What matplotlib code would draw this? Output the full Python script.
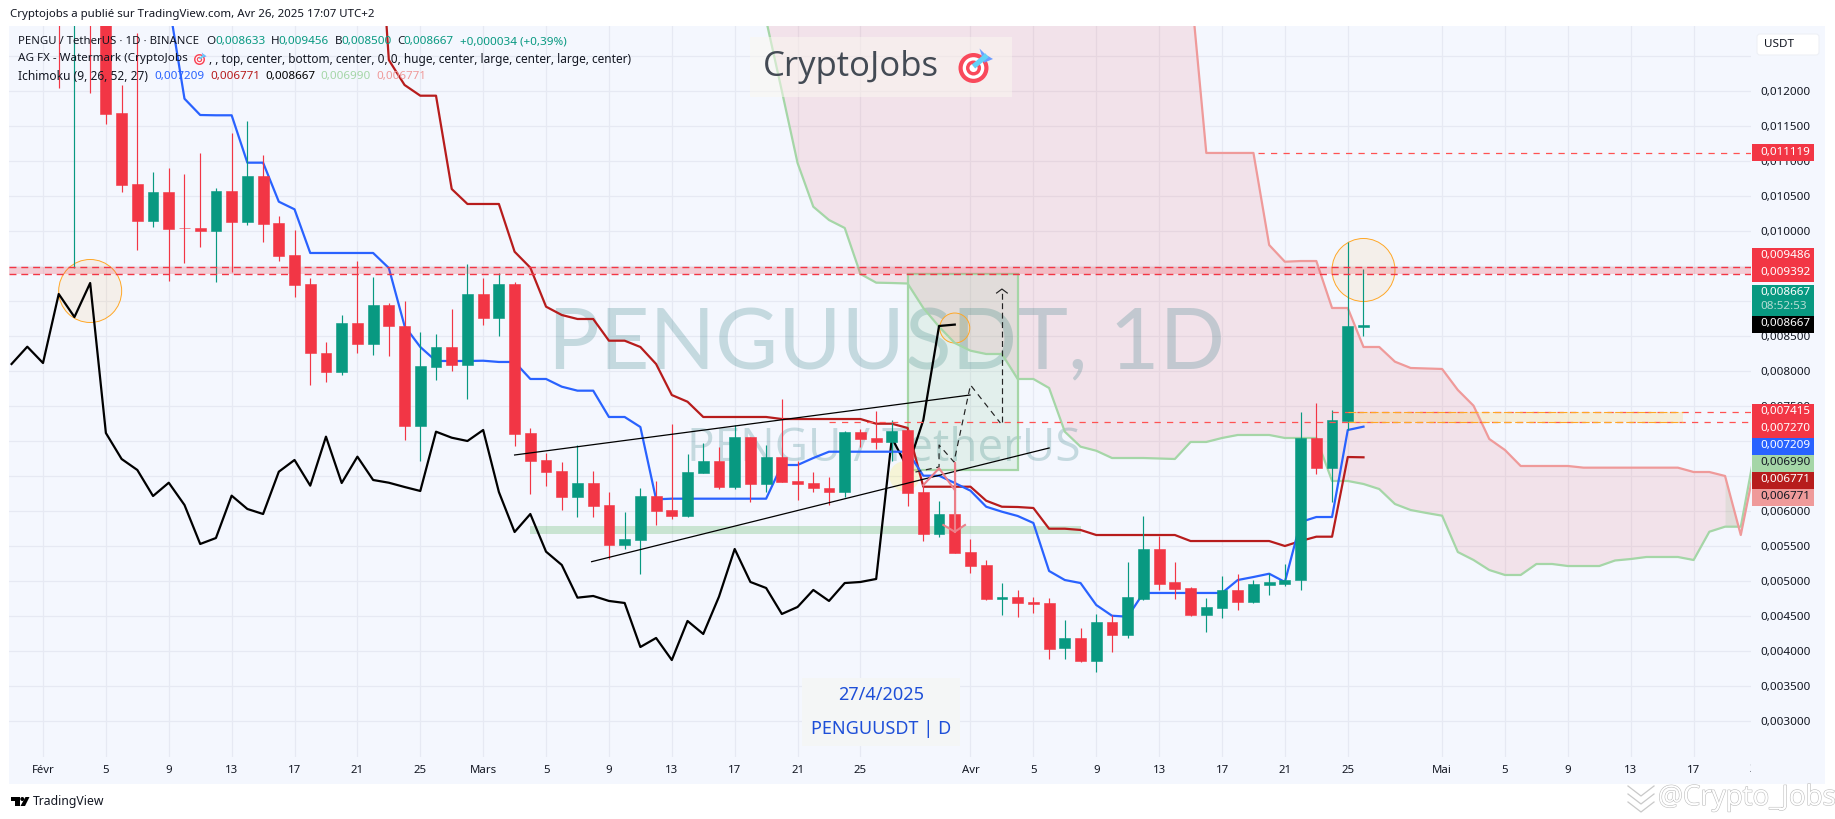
import numpy as np
from matplotlib import pyplot as plt
from matplotlib import patheffects as pe
from matplotlib.patches import Rectangle, Circle, Ellipse, Polygon, FancyBboxPatch

plt.rcParams['font.family'] = ['Noto Sans', 'DejaVu Sans']

# everything is in millionths of USDT, days are counted from Feb 1st
candle_days = np.arange(1, 85)
opens = [14500, 13500, 14000, 13500, 11690, 10675, 10147, 10561, 10047, 10047, 10004, 10575, 10133, 10790,
         10118, 9661, 9247, 8261, 7990, 8690, 8390, 8947, 8647, 7218, 8061, 8347, 8090, 9104, 8761, 9247,
         7118, 6733, 6575, 6204, 6404, 6090, 5518, 5590, 6218, 6018, 5933, 6547, 6718, 6347, 7061, 6390,
         6775, 6433, 6404, 6333, 6275, 7133, 7047, 6990, 7161, 6275, 5676, 5961, 5418, 5233, 4747, 4776,
         4704, 4690, 4047, 4190, 3861, 4418, 4233, 4747, 5461, 4990, 4904, 4518, 4618, 4876, 4704, 4947,
         4961, 5018, 7047, 6618, 7290, 8633]
highs = [15000, 14200, 14300, 14000, 12090, 12833, 10847, 10904, 10818, 11118, 10618, 11404, 11575, 11090,
         10218, 10018, 9333, 8418, 8804, 9575, 9347, 8975, 9004, 8561, 8533, 8890, 9533, 9333, 9404, 9275,
         7190, 6833, 6704, 6947, 6575, 6275, 5990, 6333, 6433, 7247, 6818, 6976, 6918, 7233, 7061, 6947,
         7604, 6718, 6561, 6490, 7147, 7175, 7433, 7304, 7175, 6404, 6147, 6690, 5604, 5304, 4975, 4876,
         4776, 4761, 4447, 4333, 4533, 4518, 5276, 5933, 5647, 5276, 4918, 4761, 5075, 5104, 5018, 5118,
         5247, 7418, 7547, 7447, 9847, 9456]
lows = [12047, 9475, 11975, 11533, 10561, 9733, 10061, 9290, 9547, 9775, 9275, 9418, 10090, 9847,
        9575, 9061, 7804, 7847, 7947, 8261, 8233, 8218, 7018, 6718, 7875, 8004, 7604, 8661, 8504, 6933,
        6247, 6361, 6018, 5918, 5918, 5318, 5461, 5104, 5804, 5890, 5918, 6547, 6318, 6318, 6133, 6275,
        6418, 6161, 6275, 6090, 6204, 6918, 6890, 6718, 6075, 5575, 5633, 5404, 5118, 4733, 4518, 4490,
        4547, 3890, 3890, 3847, 3704, 3990, 4190, 4733, 4876, 4747, 4504, 4276, 4475, 4590, 4690, 4804,
        4933, 4876, 6533, 6133, 7161, 8500]
closes = [13800, 14000, 13500, 11675, 10661, 10147, 10561, 10033, 10040, 10004, 10575, 10133, 10790, 10104,
          9647, 9233, 8261, 7990, 8690, 8390, 8947, 8647, 7218, 8075, 8347, 8090, 9104, 8761, 9247, 7104,
          6718, 6561, 6204, 6404, 6075, 5518, 5604, 6218, 6004, 5933, 6561, 6718, 6347, 7061, 6390, 6775,
          6418, 6390, 6333, 6275, 7133, 7033, 6990, 7147, 6261, 5676, 5961, 5404, 5218, 4747, 4776, 4690,
          4676, 4033, 4190, 3861, 4418, 4233, 4776, 5461, 4961, 4890, 4518, 4633, 4876, 4704, 4961, 4990,
          5018, 7047, 6618, 7304, 8647, 8667]

conversion_days = np.arange(8, 85)
conversion = [13275, 11894, 11661, 11657, 11657, 10980, 10980, 10423, 10314, 9690, 9690, 9690, 9690, 9690,
              9475, 8647, 8347, 8147, 8147, 8147, 8151, 8133, 8133, 7890, 7890, 7780, 7723, 7723, 7347, 7347,
              7204, 6171, 6180, 6180, 6180, 6180, 6180, 6180, 6180, 6661, 6661, 6761, 6851, 6851, 6851, 6851,
              6851, 6851, 6508, 6508, 6404, 6294, 6065, 5994, 5933, 5833, 5147, 5018, 4975, 4661, 4508, 4494,
              4833, 4833, 4833, 4833, 4833, 4833, 5018, 5061, 5108, 4990, 5847, 5918, 5918, 7161, 7209]

base_days = np.arange(21, 85)
base = [15790, 12447, 12090, 11937, 11937, 10604, 10390, 10390, 10390, 9708, 9480, 8923, 8804, 8747, 8747,
        8437, 8437, 8347, 8104, 7661, 7565, 7347, 7347, 7347, 7347, 7347, 7318, 7318, 7318, 7318, 7318, 7318,
        7251, 7251, 7190, 6351, 6351, 6351, 6351, 6151, 6065, 6061, 6047, 5751, 5751, 5733, 5661, 5661, 5661,
        5661, 5661, 5661, 5575, 5575, 5575, 5575, 5575, 5575, 5504, 5575, 5637, 5637, 6775, 6771]

lagging_days = np.arange(-2, 59)
lagging = [8104, 8351, 8118, 9104, 8775, 9261, 7118, 6747, 6590, 6218, 6408, 6090, 5533, 5618, 6223, 6033,
           5961, 6565, 6733, 6366, 7066, 6404, 6780, 6447, 6408, 6347, 6290, 7137, 7051, 7004, 7161, 6275,
           5704, 5961, 5423, 5233, 4766, 4790, 4719, 4690, 4061, 4190, 3875, 4433, 4247, 4780, 5461, 4990,
           4904, 4533, 4633, 4876, 4719, 4975, 4990, 5033, 7047, 6618, 7304, 8647, 8667]

cloud_days = np.arange(45, 110)
span_a = [14018, 13018, 12004, 10975, 10351, 10161, 10047, 9390, 9266, 9261, 9254, 8904, 8637, 8404, 8294,
          8247, 8247, 7890, 7890, 7761, 7137, 6923, 6865, 6761, 6761, 6761, 6754, 6747, 6990, 6990, 7047,
          7090, 7090, 7090, 7047, 7047, 7047, 6433, 6433, 6390, 6318, 6104, 6018, 5976, 5937, 5418, 5304,
          5161, 5090, 5090, 5247, 5247, 5218, 5218, 5218, 5297, 5318, 5347, 5347, 5347, 5304, 5708, 5780,
          5780, 6990]
span_b = [13600, 13600, 13600, 13600, 13600, 13600, 13600, 13600, 13600, 13600, 13600, 13600, 13600, 13600,
          13600, 13600, 13600, 13600, 13600, 13600, 13600, 13600, 13600, 13600, 13600, 13600, 13600, 13600,
          13533, 11119, 11119, 11119, 11119, 9804, 9565, 9575, 9575, 8904, 8904, 8347, 8347, 8137, 8047,
          8040, 8033, 7733, 7508, 7033, 6875, 6647, 6647, 6647, 6647, 6623, 6623, 6623, 6623, 6623, 6623,
          6623, 6561, 6561, 6504, 5661, 6771]

price_ticks = list(range(3000, 13000, 500))
date_ticks = [0, 4, 8, 12, 16, 20, 24, 28, 32, 36, 40, 44, 48, 52, 59, 63, 67, 71, 75, 79, 83, 89, 93, 97, 101, 105, 109]
date_labels = ['Févr', '5', '9', '13', '17', '21', '25', 'Mars', '5', '9', '13', '17', '21', '25',
               'Avr', '5', '9', '13', '17', '21', '25', 'Mai', '5', '9', '13', '17', '21']
month_labels = ['Févr', 'Mars', 'Avr', 'Mai']

# drawings on the chart
band_top, band_bottom = 9486, 9392
resistance = 11119
zone_top, zone_bottom = 7415, 7270
support_top, support_bottom = 5790, 5675
upper_trend_days, upper_trend = [30, 58.97], [6804, 7661]
lower_trend_days, lower_trend = [34.9, 64], [5280, 6904]
path_days = [55.5, 57, 57, 57.95, 59, 60.9]
path_prices = [6561, 6633, 6947, 6704, 7804, 7261]
target_days, target_prices = [61, 61], [7275, 9161]
head_days, head_prices = [60.66, 61, 61.34], [9118, 9175, 9118]
pink_m_days, pink_m = [56, 57, 58], [6375, 6614, 6304]
pink_arrow_days, pink_arrow = [58, 58], [6690, 5708]
pink_head_days, pink_head = [57.27, 58, 58.65], [5804, 5708, 5804]

WIDTH, HEIGHT = 1835, 819
RED, GREEN = '#F23645', '#089981'
BLUE, DARK_RED = '#2962FF', '#B71C1C'
SPAN_GREEN, SPAN_PINK = '#A5D6A7', '#EF9A9A'
TEXT = '#131722'


def text(axis, x, y, s, **kw):
    kw.setdefault('fontsize', 8.4)
    kw.setdefault('color', TEXT)
    kw.setdefault('va', 'center')
    return axis.text(x, y, s, **kw)


def price_label(y0, y1, color, labels):
    px.add_patch(Rectangle((1752, y0), 62, y1 - y0, color=color, lw=0))
    for y, s, c in labels:
        text(px, 1760, y, s, color=c)


def draw_target(cx, cy, r):
    for f, c in [(1, '#F9495B'), (0.72, 'white'), (0.5, '#F9495B'), (0.27, 'white')]:
        px.add_patch(Circle((cx, cy), r * f, color=c, lw=0))
    px.plot([cx, cx + 0.9 * r], [cy - 0.1 * r, cy - 0.85 * r], color='#63D2F7', lw=r * 0.25, solid_capstyle='butt')
    px.add_patch(Polygon([(cx + 0.4 * r, cy - 1.3 * r), (cx + 0.8 * r, cy - 0.9 * r), (cx + 1.3 * r, cy - 0.6 * r),
                          (cx + 0.7 * r, cy - 0.35 * r)], color='#6C9DFF', lw=0))


fig = plt.figure(figsize=(WIDTH / 100, HEIGHT / 100), dpi=100, facecolor='white')

bg = fig.add_axes([0, 0, 1, 1], zorder=-1)
bg.set_xlim(0, WIDTH)
bg.set_ylim(HEIGHT, 0)
bg.axis('off')
bg.add_patch(Rectangle((9, 26), 1816, 758, color='#F4F7FE', lw=0))

ax = fig.add_axes([9 / WIDTH, (HEIGHT - 757) / HEIGHT, 1742 / WIDTH, 731 / HEIGHT], zorder=1)
ax.patch.set_alpha(0)
ax.set_xlim(-2.163, 108.65)
ax.set_ylim(2489.7, 12932.6)
for spine in ax.spines.values():
    spine.set_visible(False)
ax.yaxis.tick_right()
ax.set_yticks(price_ticks)
ax.set_yticklabels([f'0,{p:06d}' if p <= 12000 else '' for p in price_ticks], fontsize=8.4, color=TEXT)
ax.set_xticks(date_ticks[:-1])
ax.set_xticklabels(date_labels[:-1], fontsize=8.2, color=TEXT)
for lab in ax.get_xticklabels():
    if lab.get_text() in month_labels:
        lab.set_fontweight('semibold')
ax.tick_params(axis='both', length=0)
ax.tick_params(axis='y', pad=6.5)
ax.tick_params(axis='x', pad=6)
ax.grid(color='#E6E9F3', lw=0.9)
ax.set_axisbelow(True)

px = fig.add_axes([0, 0, 1, 1], zorder=2)
px.patch.set_alpha(0)
px.set_xlim(0, WIDTH)
px.set_ylim(HEIGHT, 0)
px.axis('off')

# ichimoku cloud
a = np.array(span_a, dtype=float)
b = np.array(span_b, dtype=float)
ax.fill_between(cloud_days, a, b, where=cloud_days <= 107, interpolate=True, color='#E8505B', alpha=0.12, lw=0, zorder=1)
ax.fill_between(cloud_days, a, b, where=cloud_days >= 107, interpolate=True, color='#4CAF50', alpha=0.1, lw=0, zorder=1)

# watermarks
ax.text(548, 345, 'PENGUUSDT, 1D', transform=px.transData, fontsize=62, family='Lato', color='#1B6F74', alpha=0.22,
        va='center', zorder=1.5)
ax.text(687, 449, 'PENGU / TetherUS', transform=px.transData, fontsize=33, family='Open Sans', color='#1B6F74', alpha=0.22,
        va='center', zorder=1.5)

# zones under the candles
ax.add_patch(Rectangle((55, 6590), 7, 2800, facecolor='#4CAF50', alpha=0.1, lw=0, zorder=2))
ax.add_patch(Rectangle((55, 6590), 7, 2800, fill=False, edgecolor=SPAN_GREEN, lw=1.6, zorder=2))
ax.add_patch(Rectangle((31, support_bottom), 35, support_top - support_bottom, color='#4CAF50', alpha=0.25, lw=0, zorder=2))
ax.add_patch(Rectangle((83, zone_bottom), 21.3, zone_top - zone_bottom, color='#FFC107', alpha=0.15, lw=0, zorder=2))
for cx, cy, r in [(3, 9147, 31.5), (84, 9447, 31.5), (58, 8618, 15), (54.8, 6500, 15)]:
    fc = '#FF9800' if cy > 7000 else '#FFEB3B'
    ax.add_patch(Ellipse((cx, cy), 2 * r / 15.72, 2 * r / 0.07, facecolor=fc, alpha=0.08 if cy > 7000 else 0.2, lw=0, zorder=2))
    if cy > 7000:
        ax.add_patch(Ellipse((cx, cy), 2 * r / 15.72, 2 * r / 0.07, fill=False, edgecolor='#FFA726', lw=0.7, zorder=2))

# ichimoku lines
ax.plot(cloud_days, span_a, color=SPAN_GREEN, lw=1.6, zorder=3)
ax.plot(cloud_days[28:], span_b[28:], color=SPAN_PINK, lw=1.6, zorder=3)
ax.plot(lagging_days, lagging, color='black', lw=1.6, zorder=3)
ax.plot(base_days, base, color=DARK_RED, lw=1.6, zorder=3)
ax.plot(conversion_days, conversion, color=BLUE, lw=1.6, zorder=3)

# candles
o = np.array(opens)
c = np.array(closes)
colors = [GREEN if up else RED for up in c >= o]
ax.vlines(candle_days, lows, highs, colors=colors, lw=0.85, zorder=4)
ax.bar(candle_days, np.abs(c - o), bottom=np.minimum(o, c), width=0.69, color=colors, edgecolor=colors, lw=0.4, zorder=5)

# lines drawn over the chart
ax.axhspan(band_bottom, band_top, color=RED, alpha=0.22, lw=0, zorder=6)
for level in [band_top, band_bottom]:
    ax.axhline(level, color=RED, lw=1, dashes=(5, 3.5), zorder=6)
ax.plot([77.3, 108.65], [resistance, resistance], color='#FF5252', lw=0.9, dashes=(5, 5), zorder=6)
ax.plot([82, 108.65], [zone_top, zone_top], color='#FF5252', lw=0.9, dashes=(5, 5), zorder=6)
ax.plot([50, 108.65], [zone_bottom, zone_bottom], color='#FF5252', lw=0.9, dashes=(5, 5), zorder=6)
for level in [zone_top, zone_bottom]:
    ax.plot([83, 104.3], [level, level], color='#FFA726', lw=0.8, dashes=(7, 3), zorder=6)
ax.plot(upper_trend_days, upper_trend, color='black', lw=0.9, zorder=6)
ax.plot(lower_trend_days, lower_trend, color='black', lw=0.9, zorder=6)
ax.plot(path_days, path_prices, color='#222222', lw=0.85, dashes=(5, 4), zorder=6)
ax.plot(target_days, target_prices, color='#222222', lw=0.85, dashes=(5, 3), zorder=6)
ax.plot(head_days, head_prices, color='#222222', lw=0.85, zorder=6)
ax.plot(pink_m_days, pink_m, color='#EC7F89', lw=1.5, zorder=6)
ax.plot(pink_arrow_days, pink_arrow, color='#EC7F89', lw=1.5, zorder=6)
ax.plot(pink_head_days, pink_head, color='#EC7F89', lw=1.5, zorder=6)

# top and legend texts
text(px, 10, 15, 'Cryptojobs a publié sur TradingView.com, Avr 26, 2025 17:07 UTC+2', fontsize=8.25)
text(px, 18, 41.7, 'PENGU / TetherUS · 1D · BINANCE', fontsize=8.2)
for x, s in [(206.6, 'O'), (270.5, 'H'), (334.4, 'B'), (397, 'C')]:
    text(px, x, 41.7, s)
for x, s in [(215, '0,008633'), (278.4, '0,009456'), (341, '0,008500'), (403.7, '0,008667'), (459.7, '+0,000034 (+0,39%)')]:
    text(px, x, 41.7, s, color=GREEN)
text(px, 18, 59, 'AG FX - Watermark (CryptoJobs')
draw_target(199.5, 59.5, 5.5)
text(px, 208.7, 59, ', , top, center, bottom, center, 0, 0, huge, center, large, center, large, center)', fontsize=8.55)
text(px, 18, 76, 'Ichimoku (9, 26, 52, 27)', fontsize=8.6)
for x, s, col in [(154, '0,007209', BLUE), (210, '0,006771', DARK_RED), (265.6, '0,008667', 'black'),
                  (320.7, '0,006990', SPAN_GREEN), (376.8, '0,006771', SPAN_PINK)]:
    text(px, x, 76, s, color=col)

# watermark boxes
px.add_patch(Rectangle((750, 37), 262, 60, color='#FAF8F0', alpha=0.5, lw=0))
text(px, 763, 67, 'CryptoJobs', fontsize=25, color='#434A54', family='Open Sans')
draw_target(973.5, 68, 15)
px.add_patch(Rectangle((802, 678), 158, 68, color='#F4F6F6', lw=0))
text(px, 881, 695, '27/4/2025', fontsize=13, color='#1E4FD8', ha='center')
text(px, 881, 729, 'PENGUUSDT | D', fontsize=13, color='#1E4FD8', ha='center')

# price scale
px.add_patch(FancyBboxPatch((1757, 34), 62, 21, boxstyle='round,pad=0,rounding_size=3', facecolor='white',
                            edgecolor='#EEF0F6', lw=0.8))
text(px, 1764, 44.5, 'USDT')
price_label(144, 161, RED, [(152, '0,011119', 'white')])
price_label(248, 282, RED, [(255.3, '0,009486', 'white'), (272.3, '0,009392', 'white')])
price_label(285, 316, GREEN, [(292.3, '0,008667', 'white'), (306.7, '08:52:53', '#B5DDD4')])
price_label(316, 332.7, 'black', [(323.7, '0,008667', 'white')])
price_label(404, 438, RED, [(411.3, '0,007415', 'white'), (428.3, '0,007270', 'white')])
price_label(438, 455, BLUE, [(445.7, '0,007209', 'white')])
price_label(455, 472, SPAN_GREEN, [(463, '0,006990', TEXT)])
price_label(472, 488.7, DARK_RED, [(479.7, '0,006771', 'white')])
price_label(488.7, 505.7, SPAN_PINK, [(496.7, '0,006771', TEXT)])

# the last date is cut by the scale
last = text(px, 1756.5, 770, date_labels[-1], fontsize=8.2, ha='center')
last.set_clip_on(True)
last.set_clip_path(Rectangle((1700, 760), 51, 20, transform=px.transData))

# footer
px.add_patch(Polygon([(11, 797), (20, 797), (20, 806), (15, 806), (15, 801), (11, 801)], color='black', lw=0))
px.add_patch(Circle((22.3, 799), 2, color='black', lw=0))
px.add_patch(Polygon([(25.5, 797), (29.5, 797), (25, 806), (20.5, 806)], color='black', lw=0))
text(px, 33, 801.7, 'TradingView', fontsize=8.8)
text(px, 1658, 798, '@Crypto_Jobs', fontsize=20, color='white', family='Open Sans',
     path_effects=[pe.withStroke(linewidth=0.8, foreground='#BDBDBD')])
for dy in [0, 8, 16]:
    px.plot([1628, 1641, 1654], [786 + dy, 796 + dy, 786 + dy], color='#C9C9C9', lw=0.9)

fig.savefig('out.png', dpi=100, facecolor='white')
